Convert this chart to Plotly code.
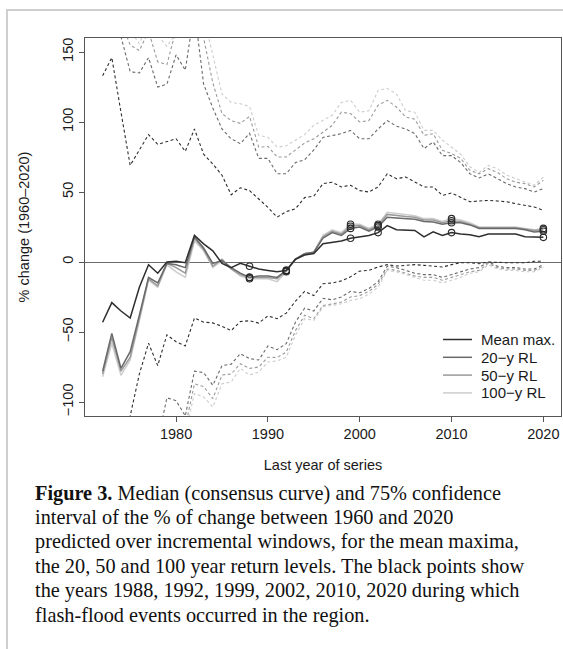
import plotly.graph_objects as go

years = list(range(1972, 2021))

# medians (consensus curves)
mean_max = [-43, -29, -35, -40, -18, -2, -8, 0, 0.5, -0.5, 19, 13, 8, -1, -4, -1, -3, -5, -6, -7, -6, 2, 5, 6, 13,
            14, 15, 17, 18, 19, 21, 26, 23, 23, 22.5, 18, 21.5, 19, 21, 20, 19.5, 18, 20, 20, 20, 20, 18, 17.6, 17.6]
rl20 = [-78, -51, -76, -64, -38, -11, -15, -1, -2, -4, 18, 10, -1, 1, -4, -8, -11, -10, -10, -11, -6, 2, 6, 7, 17,
        21, 19, 24, 25, 22, 25, 32, 31.5, 31, 30.5, 29, 28.5, 27, 28, 28, 26.5, 24, 24, 24, 24, 24, 23, 21.5, 22]
rl50 = [-80, -54, -78, -68, -40, -12, -17, -1, -4, -8, 17, 9, -3, 2, -5, -9, -11, -11, -11, -12, -6.5, 2, 6, 7, 18,
        22, 20, 25.5, 26, 23, 26, 34, 33, 32.5, 32, 30, 30, 28, 29.5, 29, 27, 24.5, 24.5, 24.5, 24.5, 24.5, 23.5, 22.5, 23]
rl100 = [-82, -58, -81, -70, -42, -13, -18, -2, -7, -11, 15, 8, -4, 1, -5, -10, -12, -12, -12, -14, -7, 2, 6, 7, 19,
         23, 21, 27, 27, 24, 27, 35.5, 34.5, 34, 33, 31, 31, 29, 31, 30, 28, 25, 25, 25, 25, 25, 24, 23, 24]

# upper bounds of the 75% interval
mean_max_up = [133, 146, 107, 69, 80, 91, 84, 86, 88, 79, 95, 77, 70, 62, 48, 53, 51, 45, 39, 32, 36, 38, 46, 47, 56,
               57, 53.6, 54.8, 51, 50, 53.6, 63, 59.5, 60.7, 57, 53.6, 53.6, 47.6, 49.3, 46.4, 43, 43.6, 44, 43.6, 43,
               41.7, 40.5, 39.3, 37]
rl20_up = [180, 175, 161, 136, 135, 146, 125, 127, 148, 137, 180, 127, 110, 95, 88, 84.5, 92, 74, 74, 63, 63, 71, 73,
           80, 89, 90.5, 91.7, 94, 88, 88, 95, 101, 97, 95, 91.7, 81, 85.7, 76, 76, 71, 63, 60, 63, 59.5, 56, 53.6,
           52.4, 50, 52.4]
rl50_up = [195, 190, 172, 155, 151, 165, 143, 141, 166, 168, 195, 160, 128, 106, 101, 99, 104, 82, 82.6, 75, 75, 80,
           85, 88, 93, 97.6, 107, 106, 100, 101, 112, 115.5, 110.7, 103.6, 102, 90.5, 91.7, 79.8, 77.4, 74, 65.5, 63,
           66.7, 64, 59.5, 57, 56, 53.6, 58.3]
rl100_up = [210, 200, 185, 165, 156, 172, 162, 154, 163, 180, 210, 175, 148, 120, 114, 113, 111, 90.5, 89, 82, 83, 87,
            91, 97.6, 101, 104.8, 114, 115.5, 107, 108, 122.6, 124, 120, 108, 107, 94, 94, 87, 82, 77, 68, 64, 69,
            66.7, 62, 59.5, 57, 54.8, 60.7]

# lower bounds of the 75% interval
mean_max_lo = [-200, -170, -140, -112, -80, -58, -74, -52, -57, -60, -40, -43, -43.5, -46, -49, -42.5, -42, -43.6,
               -38.5, -40.5, -36.5, -28, -21, -24, -15.5, -15, -13.5, -10.5, -6.5, -6, -3.6, -1.9, -2.9, -2.4, -1.9,
               -2.4, -2.9, -3.6, -1.9, -0.5, -0.5, -1.2, 0, -0.5, -0.5, -0.5, -0.5, 0.5, 0.5]
rl20_lo = [-220, -200, -190, -170, -150, -135, -128, -97, -99, -110, -78, -79, -88, -74, -73, -65.5, -69, -70, -60,
           -62.6, -58.3, -43, -33, -35, -26, -27, -25, -21, -22, -19, -14, -3, -4, -6, -8, -9, -9, -11, -9, -7, -5,
           -4, 0, -3, -4, -4, -5, -5, -2]
rl50_lo = [-240, -220, -205, -185, -170, -155, -145, -135, -125, -118, -87, -89, -97.6, -80.7, -80, -72.6, -76, -75,
           -68, -68.3, -64.3, -49, -38, -40.5, -31, -30, -28.6, -25, -24, -21, -16, -5, -6, -8, -10, -11, -11, -13,
           -11, -9, -7, -6, -1, -4, -5, -5, -6, -6, -3]
rl100_lo = [-250, -230, -215, -195, -180, -165, -155, -145, -135, -122, -94, -96.4, -103.6, -87, -85.7, -76, -80.7,
            -78.6, -71.4, -70.7, -68, -52.4, -40.5, -41.7, -32, -31, -29.8, -27.4, -26.2, -23, -18, -6, -7, -9, -11,
            -13, -13, -15, -13, -11, -8, -7, -2, -5, -6, -6, -7, -7, -4]

event_years = [1988, 1992, 1999, 2002, 2010, 2020]

series_names = ["Mean max.", "20\u2212y RL", "50\u2212y RL", "100\u2212y RL"]
medians = [mean_max, rl20, rl50, rl100]
uppers = [mean_max_up, rl20_up, rl50_up, rl100_up]
lowers = [mean_max_lo, rl20_lo, rl50_lo, rl100_lo]
colors = ["#2e2e2e", "#6a6a6a", "#9a9a9a", "#cdcdcd"]

x_ticks = [1980, 1990, 2000, 2010, 2020]
y_ticks = [-100, -50, 0, 50, 100, 150]

caption_lines = [
    "<b>Figure 3.</b> Median (consensus curve) and 75% confidence",
    "interval of the % of change between 1960 and 2020",
    "predicted over incremental windows, for the mean maxima,",
    "the 20, 50 and 100 year return levels. The black points show",
    "the years 1988, 1992, 1999, 2002, 2010, 2020 during which",
    "flash-flood events occurred in the region.",
]

W, H = 563, 649
ML, MR, MT, MB = 85, 2, 38, 233
PW, PH = W - ML - MR, H - MT - MB


def px_to_paper(px, py):
    return (px - ML) / PW, (H - MB - py) / PH


fig = go.Figure()

# dashed interval bounds (drawn lightest first)
for i in reversed(range(4)):
    for bound in (uppers[i], lowers[i]):
        fig.add_trace(go.Scatter(x=years, y=bound, mode="lines", showlegend=False,
                                 line=dict(color=colors[i], width=1.1, dash="3px,2.5px"),
                                 hoverinfo="skip"))

# medians
for i in reversed(range(4)):
    fig.add_trace(go.Scatter(x=years, y=medians[i], mode="lines", name=series_names[i],
                             showlegend=False, line=dict(color=colors[i], width=1.5)))

# event points
for i in range(4):
    ev = [medians[i][years.index(y)] for y in event_years]
    fig.add_trace(go.Scatter(x=event_years, y=ev, mode="markers", showlegend=False,
                             marker=dict(symbol="circle-open", size=6.5, color="#2a2a2a",
                                         line=dict(width=1.1, color="#2a2a2a"))))

axis_font = dict(family="Liberation Sans, Arial, sans-serif", size=14.5, color="#1a1a1a")

fig.update_xaxes(range=[1970.08, 2021.92], tickvals=x_ticks, ticks="outside", ticklen=5,
                 tickcolor="#555", showline=True, linecolor="#555", linewidth=1, mirror=True,
                 showgrid=False, zeroline=False, tickfont=axis_font,
                 title=dict(text="Last year of series", font=axis_font, standoff=18))
fig.update_yaxes(range=[-110, 160], tickvals=y_ticks, ticks="outside", ticklen=5,
                 tickcolor="#555", showline=True, linecolor="#555", linewidth=1, mirror=True,
                 showgrid=False, zeroline=True, zerolinecolor="#6a6a6a", zerolinewidth=1,
                 tickangle=-90, tickfont=axis_font,
                 title=dict(text="% change (1960\u20132020)", font=axis_font, standoff=27))

annotations = []
shapes = []

# legend (key lines + labels inside the plot, bottom right)
legend_font = dict(family="Liberation Sans, Arial, sans-serif", size=15, color="#1a1a1a")
for k, name in enumerate(series_names):
    row_y = 339.5 + k * 17.8
    x0, yk = px_to_paper(443, row_y)
    x1, _ = px_to_paper(472, row_y)
    shapes.append(dict(type="line", xref="paper", yref="paper", x0=x0, x1=x1, y0=yk, y1=yk,
                       line=dict(color=colors[k], width=1.5)))
    tx, _ = px_to_paper(479, row_y)
    annotations.append(dict(text=name, xref="paper", yref="paper", x=tx, y=yk,
                            xanchor="left", yanchor="middle", showarrow=False, font=legend_font))

for k, line in enumerate(caption_lines):
    xp, yp = px_to_paper(33, 493 + k * 24.4)
    annotations.append(dict(text=line, xref="paper", yref="paper", x=xp, y=yp,
                            xanchor="left", yanchor="middle", showarrow=False,
                            font=dict(family="Liberation Serif, Times New Roman, serif", size=20.3,
                                      color="#111")))

bx0, by0 = px_to_paper(7, 10)
bx1, by1 = px_to_paper(575, 660)
shapes.append(dict(type="rect", xref="paper", yref="paper", x0=bx0, y0=by1, x1=bx1, y1=by0,
                   line=dict(color="#cfcfcf", width=2), layer="below"))

fig.update_layout(
    width=W, height=H, margin=dict(l=ML, r=MR, t=MT, b=MB),
    paper_bgcolor="white", plot_bgcolor="white",
    showlegend=False,
    annotations=annotations,
    shapes=shapes,
)

fig.write_html("out.html", config={"displayModeBar": False},
               post_script="document.body.style.margin='0';document.body.style.overflow='hidden';")
